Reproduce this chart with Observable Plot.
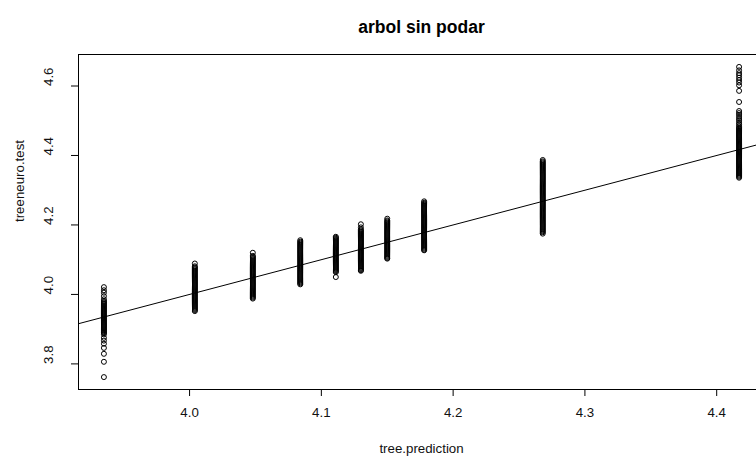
<!DOCTYPE html>
<html>
<head>
<meta charset="utf-8">
<script src="https://cdn.jsdelivr.net/npm/d3@7"></script>
<script src="https://cdn.jsdelivr.net/npm/@observablehq/plot@0.6"></script>
<style>
  html, body { margin: 0; padding: 0; background: #fff; overflow: hidden; width: 756px; height: 461px; }
  #chart { width: 756px; height: 461px; overflow: hidden; }
</style>
</head>
<body>
<div id="chart"></div>
<script>
// ---- data ----
const chartTitle = "arbol sin podar";
const xLabel = "tree.prediction";
const yLabel = "treeneuro.test";

// distinct tree.prediction values (one per terminal node)
const treePrediction = [3.935, 4.004, 4.048, 4.084, 4.111, 4.130, 4.150, 4.178, 4.268, 4.417];

// observed treeneuro.test values for each prediction group
const obs1 = [4.021, 4.012, 4.005, 3.995, 3.986, 3.981, 3.978, 3.975, 3.972, 3.969, 3.966, 3.963, 3.960, 3.957, 3.954, 3.951, 3.948, 3.945, 3.942, 3.939, 3.936, 3.933, 3.930, 3.927, 3.924, 3.921, 3.918, 3.915, 3.912, 3.909, 3.906, 3.903, 3.900, 3.897, 3.894, 3.891, 3.889, 3.885, 3.875, 3.867, 3.858, 3.846, 3.829, 3.806, 3.762];
const obs2 = [4.089, 4.081, 4.078, 4.075, 4.072, 4.069, 4.066, 4.063, 4.060, 4.057, 4.054, 4.051, 4.048, 4.045, 4.042, 4.039, 4.036, 4.033, 4.030, 4.027, 4.024, 4.021, 4.018, 4.015, 4.012, 4.009, 4.006, 4.003, 4.000, 3.997, 3.994, 3.991, 3.988, 3.985, 3.982, 3.979, 3.976, 3.973, 3.970, 3.967, 3.964, 3.961, 3.958, 3.955, 3.952];
const obs3 = [4.120, 4.111, 4.108, 4.105, 4.102, 4.099, 4.096, 4.093, 4.090, 4.087, 4.084, 4.081, 4.078, 4.075, 4.072, 4.069, 4.066, 4.063, 4.060, 4.057, 4.054, 4.051, 4.048, 4.045, 4.042, 4.039, 4.036, 4.033, 4.030, 4.027, 4.024, 4.021, 4.018, 4.015, 4.012, 4.009, 4.006, 4.003, 4.000, 3.997, 3.994, 3.991, 3.988];
const obs4 = [4.156, 4.152, 4.149, 4.146, 4.143, 4.140, 4.137, 4.134, 4.131, 4.128, 4.125, 4.122, 4.119, 4.116, 4.113, 4.110, 4.107, 4.104, 4.101, 4.098, 4.095, 4.092, 4.089, 4.086, 4.083, 4.080, 4.077, 4.074, 4.071, 4.068, 4.065, 4.062, 4.059, 4.056, 4.053, 4.050, 4.047, 4.044, 4.041, 4.038, 4.035, 4.032, 4.029];
const obs5 = [4.166, 4.163, 4.160, 4.157, 4.154, 4.151, 4.148, 4.145, 4.142, 4.139, 4.136, 4.133, 4.130, 4.127, 4.124, 4.121, 4.118, 4.115, 4.112, 4.109, 4.106, 4.103, 4.100, 4.097, 4.094, 4.091, 4.088, 4.085, 4.082, 4.079, 4.076, 4.073, 4.070, 4.067, 4.064, 4.050];
const obs6 = [4.202, 4.193, 4.187, 4.184, 4.181, 4.178, 4.175, 4.172, 4.169, 4.166, 4.163, 4.160, 4.157, 4.154, 4.151, 4.148, 4.145, 4.142, 4.139, 4.136, 4.133, 4.130, 4.127, 4.124, 4.121, 4.118, 4.115, 4.112, 4.109, 4.106, 4.103, 4.100, 4.097, 4.094, 4.091, 4.088, 4.085, 4.082, 4.079, 4.076, 4.073, 4.070, 4.068];
const obs7 = [4.218, 4.213, 4.210, 4.207, 4.204, 4.201, 4.198, 4.195, 4.192, 4.189, 4.186, 4.183, 4.180, 4.177, 4.174, 4.171, 4.168, 4.165, 4.162, 4.159, 4.156, 4.153, 4.150, 4.147, 4.144, 4.141, 4.138, 4.135, 4.132, 4.129, 4.126, 4.123, 4.120, 4.117, 4.114, 4.111, 4.108, 4.105, 4.103];
const obs8 = [4.268, 4.264, 4.261, 4.258, 4.255, 4.252, 4.249, 4.246, 4.243, 4.240, 4.237, 4.234, 4.231, 4.228, 4.225, 4.222, 4.219, 4.216, 4.213, 4.210, 4.207, 4.204, 4.201, 4.198, 4.195, 4.192, 4.189, 4.186, 4.183, 4.180, 4.177, 4.174, 4.171, 4.168, 4.165, 4.162, 4.159, 4.156, 4.153, 4.150, 4.147, 4.144, 4.141, 4.138, 4.135, 4.132, 4.129, 4.127];
const obs9 = [4.387, 4.383, 4.380, 4.377, 4.374, 4.371, 4.368, 4.365, 4.362, 4.359, 4.356, 4.353, 4.350, 4.347, 4.344, 4.341, 4.338, 4.335, 4.332, 4.329, 4.326, 4.323, 4.320, 4.317, 4.314, 4.311, 4.308, 4.305, 4.302, 4.299, 4.296, 4.293, 4.290, 4.287, 4.284, 4.281, 4.278, 4.275, 4.272, 4.269, 4.266, 4.263, 4.260, 4.257, 4.254, 4.251, 4.248, 4.245, 4.242, 4.239, 4.236, 4.233, 4.230, 4.227, 4.224, 4.221, 4.218, 4.215, 4.212, 4.209, 4.206, 4.203, 4.200, 4.197, 4.194, 4.191, 4.188, 4.185, 4.182, 4.179, 4.175];
const obs10 = [4.655, 4.645, 4.637, 4.631, 4.624, 4.617, 4.610, 4.602, 4.586, 4.554, 4.528, 4.522, 4.517, 4.511, 4.505, 4.500, 4.494, 4.489, 4.484, 4.480, 4.477, 4.474, 4.471, 4.468, 4.465, 4.462, 4.459, 4.456, 4.453, 4.450, 4.447, 4.444, 4.441, 4.438, 4.435, 4.432, 4.429, 4.426, 4.423, 4.420, 4.417, 4.414, 4.411, 4.408, 4.405, 4.402, 4.399, 4.396, 4.393, 4.390, 4.387, 4.384, 4.381, 4.378, 4.375, 4.372, 4.369, 4.366, 4.363, 4.360, 4.357, 4.354, 4.351, 4.348, 4.345, 4.342, 4.339, 4.336];

// fitted lm(treeneuro.test ~ tree.prediction)
const lmIntercept = 0.0;
const lmSlope = 1.0;

const xTicks = [4.0, 4.1, 4.2, 4.3, 4.4];
const yTicks = [3.8, 4.0, 4.2, 4.4, 4.6];

// ---- build table ----
const groups = [obs1, obs2, obs3, obs4, obs5, obs6, obs7, obs8, obs9, obs10];
const points = [];
groups.forEach((g, i) => g.forEach(v => points.push({pred: treePrediction[i], obs: v})));

// R-style 4% axis extension
const xExt = d3.extent(points, d => d.pred);
const yExt = d3.extent(points, d => d.obs);
const xPad = (xExt[1] - xExt[0]) * 0.04;
const yPad = (yExt[1] - yExt[0]) * 0.04;
const xDomain = [xExt[0] - xPad, xExt[1] + xPad];
const yDomain = [yExt[0] - yPad, yExt[1] + yPad];

const fitLine = xDomain.map(x => ({x, y: lmIntercept + lmSlope * x}));
const fmt = d3.format(".1f");

const chart = Plot.plot({
  width: 766,
  height: 461,
  marginLeft: 78,
  marginRight: 2,
  marginTop: 54,
  marginBottom: 72,
  style: {fontFamily: "'Liberation Sans', Arial, sans-serif", fontSize: "13px", background: "#fff", maxWidth: "none", color: "#000"},
  x: {domain: xDomain, axis: null},
  y: {domain: yDomain, axis: null},
  marks: [
    Plot.frame({stroke: "#000", strokeWidth: 1}),
    Plot.axisX({ticks: xTicks, tickSize: 7, tickFormat: () => "", stroke: "#000"}),
    Plot.axisY({ticks: yTicks, tickSize: 7, tickFormat: () => "", stroke: "#000"}),
    Plot.text(xTicks, {x: d => d, frameAnchor: "bottom", dy: 27, text: d => fmt(d), fill: "#111", fontSize: 13.3}),
    Plot.text(yTicks, {y: d => d, frameAnchor: "left", dx: -30, rotate: -90, text: d => fmt(d), fill: "#111", fontSize: 13.3}),
    Plot.line(fitLine, {x: "x", y: "y", stroke: "#000", strokeWidth: 1, clip: true}),
    Plot.dot(points, {x: "pred", y: "obs", r: 2.5, stroke: "#000", strokeWidth: 1, fill: "none"}),
    Plot.text([xLabel], {frameAnchor: "bottom", dy: 63, text: d => d, fill: "#111", fontSize: 13.3}),
    Plot.text([yLabel], {frameAnchor: "left", dx: -59, rotate: -90, text: d => d, fill: "#111", fontSize: 13.3}),
    Plot.text([chartTitle], {frameAnchor: "top", dy: -34, text: d => d, fontWeight: "bold", fontSize: 17.5, fill: "#000"})
  ]
});
document.getElementById("chart").appendChild(chart);
</script>
</body>
</html>
